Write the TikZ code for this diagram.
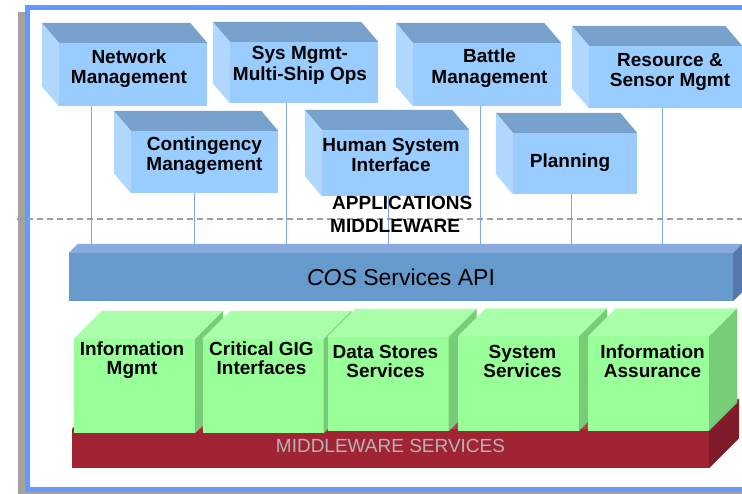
\documentclass[tikz,border=0pt]{standalone}
\usepackage{fontspec}
\setmainfont{Liberation Sans}
\usetikzlibrary{calc}
\definecolor{frameblue}{HTML}{6699FF}
\definecolor{shadowgray}{HTML}{A5A29B}
\definecolor{appblue}{HTML}{99CCFF}
\definecolor{apptopblue}{HTML}{78A2CC}
\definecolor{appsideblue}{HTML}{B0D8FF}
\definecolor{linkblue}{HTML}{7FA5F0}
\definecolor{apiblue}{HTML}{6699CC}
\definecolor{apitopblue}{HTML}{88AADD}
\definecolor{apisideblue}{HTML}{5577AA}
\definecolor{svcgreen}{HTML}{99FF99}
\definecolor{svctopgreen}{HTML}{AAFFAA}
\definecolor{svcsidegreen}{HTML}{77CC77}
\definecolor{mwred}{HTML}{A02434}
\definecolor{mwtopred}{HTML}{B8404E}
\definecolor{mwsidered}{HTML}{801C2A}
\definecolor{mwtext}{HTML}{B4B4B4}
\definecolor{dashgray}{HTML}{9E9E9E}
\tikzset{
    appfront/.style={fill=appblue, inner sep=0pt, minimum width=148pt, minimum height=62pt},
    apptext/.style={inner sep=0pt, align=center, font=\fontsize{19}{20.5}\selectfont\bfseries},
    svcfront/.style={fill=svcgreen, inner sep=0pt, minimum width=121pt, minimum height=94pt},
    svctext/.style={inner sep=0pt, align=center, font=\fontsize{19}{19}\selectfont\bfseries},
    link/.style={draw=linkblue, line width=1pt},
    layer/.style={inner sep=0pt, font=\fontsize{19}{19}\selectfont\bfseries}
}

% application box: name, front centre, size, text offset, text
\newcommand{\appbox}[5]{
    \node[appfront, #3] (#1) at (#2) {};
    \fill[apptopblue] (#1.north west) -- ++(-17,-20) -- ($(#1.north east)+(-17,-20)$) -- (#1.north east) -- cycle;
    \fill[appsideblue] (#1.north west) -- ++(-17,-20) -- ($(#1.south west)+(-17,-20)$) -- (#1.south west) -- cycle;
    \node[apptext] (#1txt) at ($(#1)+(#4)$) {#5};
}
% service box: name, front centre, text offset, text
\newcommand{\svcbox}[4]{
    \node[svcfront] (#1) at (#2) {};
    \fill[svctopgreen] (#1.north west) -- ++(28,-28) -- ($(#1.north east)+(28,-28)$) -- (#1.north east) -- cycle;
    \fill[svcsidegreen] (#1.north east) -- ++(28,-28) -- ($(#1.south east)+(28,-28)$) -- (#1.south east) -- cycle;
    \node[svctext, anchor=north] (#1txt) at ($(#1.north)+(#3)$) {#4};
}

\begin{document}
\begin{tikzpicture}[x=1pt, y=-1pt]
    \useasboundingbox (0,0) rectangle (742,494);
    \clip (0,0) rectangle (742,494);
    \fill[white] (0,0) rectangle (742,494);
    % frame and its shadow
    \fill[shadowgray] (18,12) rectangle (760,500);
    \draw[frameblue, fill=white, line width=5pt] (27.5,7.5) rectangle (770,489.5);

    % applications
    \appbox{net}{133,74.5}{minimum height=63pt}{-4,-6}{Network\\Management}
    \appbox{sys}{304,72.5}{minimum height=61pt}{-4,-7}{Sys Mgmt-\\Multi-Ship Ops}
    \appbox{battle}{487,74.5}{minimum height=63pt}{2.5,-6.5}{Battle\\Management}
    \appbox{res}{665.5,77}{minimum width=153pt}{4.5,-5}{Resource \&\\Sensor Mgmt}
    \appbox{cont}{204.5,162}{minimum width=147pt}{0,-6.5}{Contingency\\Management}
    \appbox{hsi}{395.5,163}{minimum width=147pt, minimum height=66pt}{-4.5,-8}{Human System\\Interface}
    \appbox{plan}{575,163.5}{minimum width=124pt, minimum height=61pt}{-5,-1}{Planning}

    % API bar
    \node[fill=apiblue, minimum width=664pt, minimum height=48pt, inner sep=0pt, font=\fontsize{23}{23}\selectfont] (api) at (401,277) {\textit{COS} Services API};
    \fill[apitopblue] (api.north west) -- ++(9,-9) -- ($(api.north east)+(9,-9)$) -- (api.north east) -- cycle;
    \fill[apisideblue] (api.north east) -- ++(9,-9) -- ($(api.south east)+(9,-9)$) -- (api.south east) -- cycle;
    \coordinate (apiback) at ($(api.north)+(0,-9)$);

    % links down to the API
    \foreach \b/\dx in {net/33, cont/64, sys/57, hsi/67, battle/68, plan/59, res/74} {
        \coordinate (\b link) at ([xshift=\dx pt]\b.south west);
        \draw[link] (\b link) -- (\b link |- apiback);
    }

    % layer divider
    \draw[dashgray, line width=1.5pt, dash pattern=on 6pt off 4pt] (17,219) -- (742,219);
    \node[layer, anchor=base west] (apps) at (332,210) {APPLICATIONS};
    \node[layer, anchor=base west] (mw) at (330,233) {MIDDLEWARE};

    % middleware services base
    \node[fill=mwred, minimum width=637pt, minimum height=39pt, inner sep=0pt, text height=13.6pt, text depth=5pt, text=mwtext, font=\fontsize{19}{19}\selectfont] (mws) at (390.5,448.5) {MIDDLEWARE SERVICES};
    \fill[mwtopred] (mws.north west) -- ++(30,-30) -- ($(mws.north east)+(30,-30)$) -- (mws.north east) -- cycle;
    \fill[mwsidered] (mws.north east) -- ++(30,-30) -- ($(mws.south east)+(30,-30)$) -- (mws.south east) -- cycle;

    % services
    \svcbox{im}{134.5,386}{-2.5,3}{Information\\Mgmt}
    \svcbox{gig}{263,386}{-1.5,3}{Critical GIG\\Interfaces}
    \svcbox{ds}{388,384}{-2.5,8}{Data Stores\\Services}
    \svcbox{ss}{518.5,383.5}{4,8.5}{System\\Services}
    \svcbox{ia}{648.5,383.5}{4,8.5}{Information\\Assurance}
\end{tikzpicture}
\end{document}
